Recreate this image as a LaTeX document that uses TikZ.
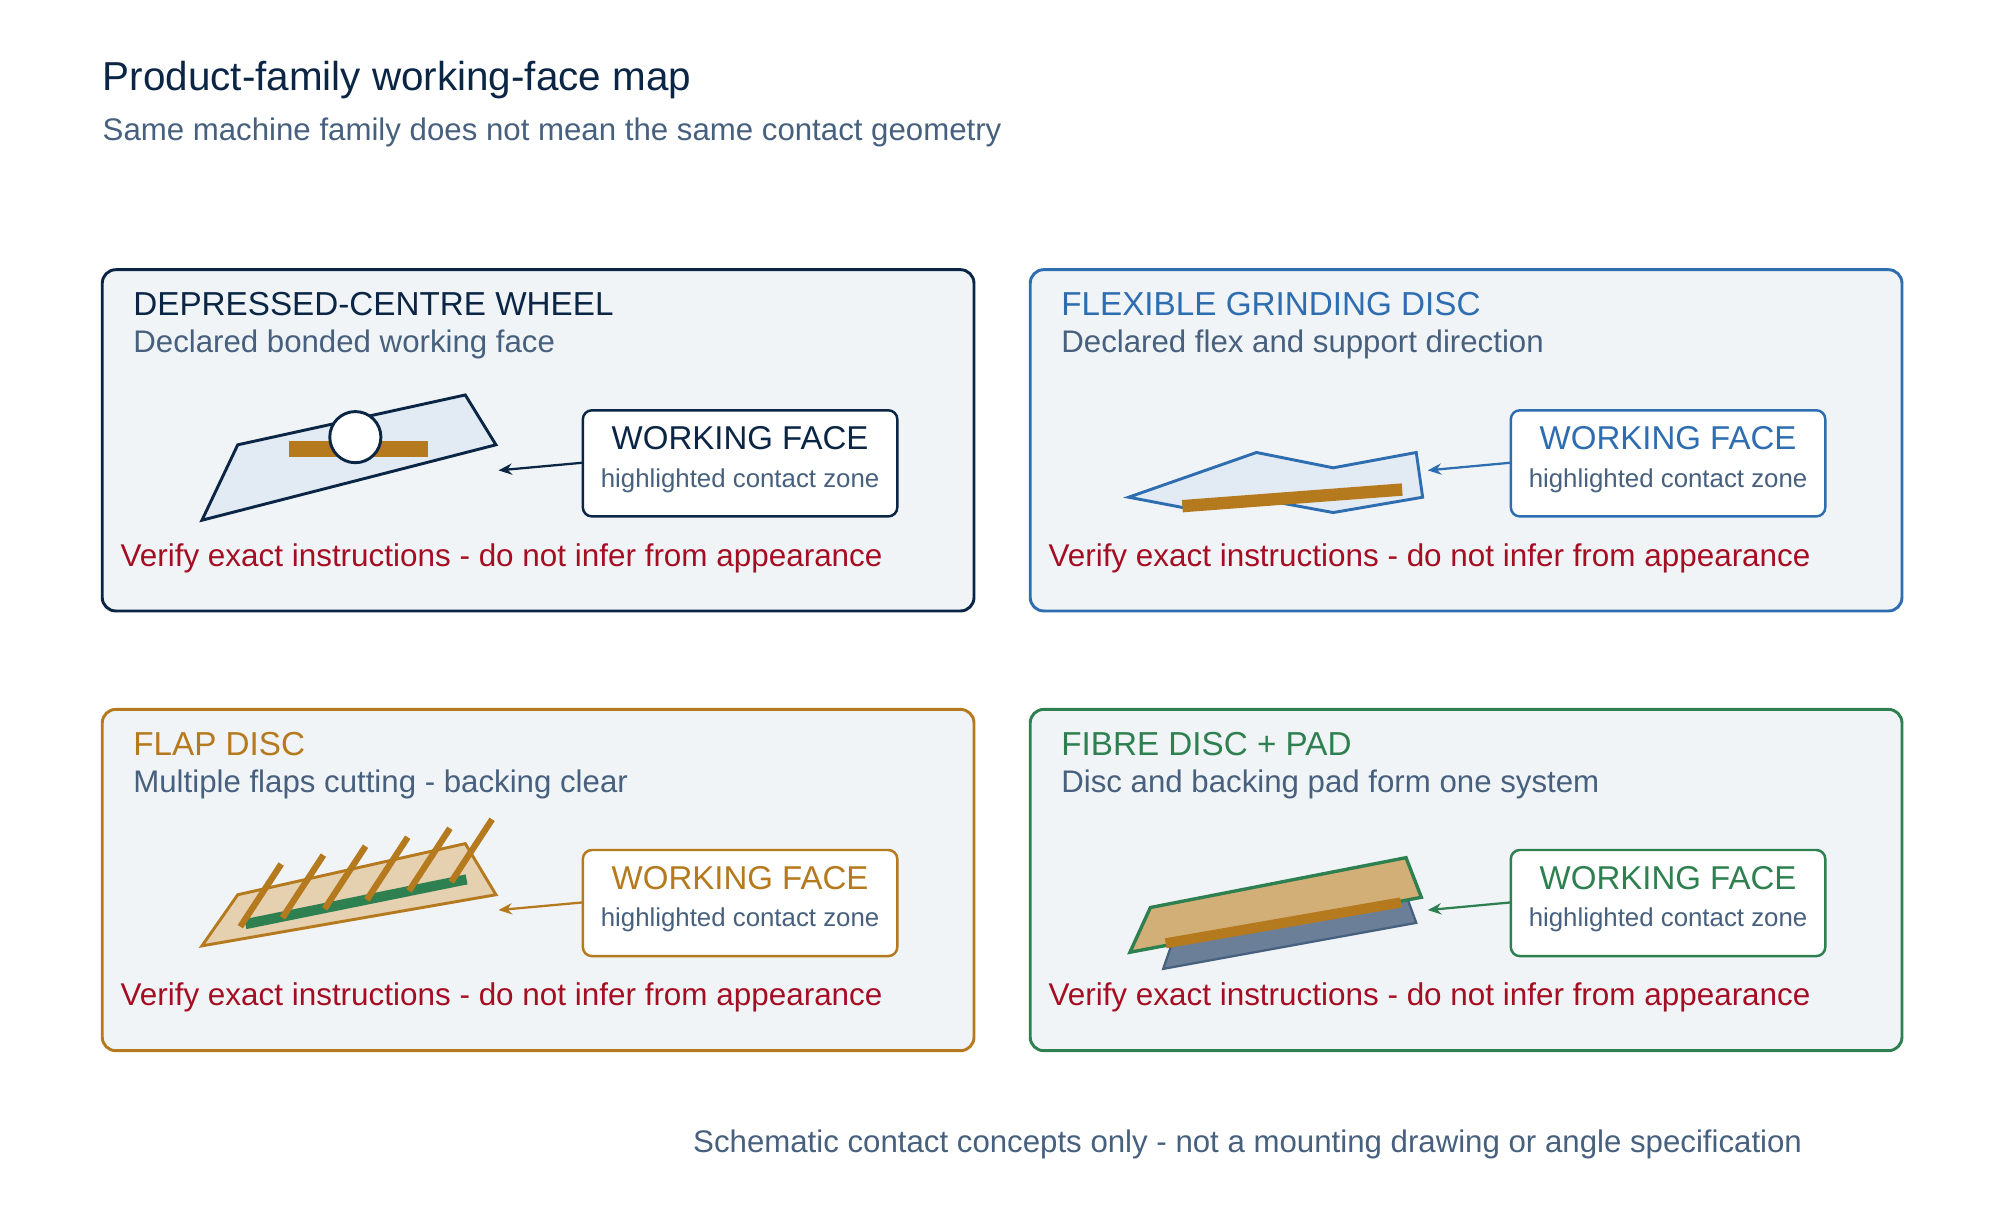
\documentclass[tikz,border=0pt]{standalone}
\usepackage{fontspec}
\setmainfont{Liberation Sans}
\usetikzlibrary{arrows.meta}
\definecolor{navy}{HTML}{0B2545}
\definecolor{cblue}{HTML}{2E6DB0}
\definecolor{cbrown}{HTML}{B5791E}
\definecolor{cgreen}{HTML}{2E8050}
\definecolor{cred}{HTML}{A50E22}
\definecolor{cgray}{HTML}{46607E}
\definecolor{panelbg}{HTML}{F0F4F7}
\definecolor{lightblue}{HTML}{E2EAF3}
\begin{document}
\begin{tikzpicture}[x=0.02cm,y=-0.02cm,
 every node/.style={inner sep=0pt},
 panel/.style={rounded corners=6pt,line width=1.3pt,fill=panelbg},
 wbox/.style={rounded corners=4pt,line width=1.1pt,fill=white},
 head/.style={anchor=base west,font=\fontsize{14.8}{16}\selectfont},
 sub/.style={anchor=base west,text=cgray,font=\fontsize{13.9}{15}\selectfont},
 warn/.style={anchor=base west,text=cred,font=\fontsize{14}{15}\selectfont},
 wf/.style={font=\fontsize{14.7}{16}\selectfont},
 hz/.style={text=cgray,font=\fontsize{11.5}{13}\selectfont},
 arr/.style={-{Stealth[length=6pt,width=5pt]},line width=1pt}]
\useasboundingbox (0,0) rectangle (1560,962);
\node[anchor=base west,text=navy,font=\fontsize{18}{20}\selectfont] (title) at (80,71) {Product-family working-face map};
\node[sub] (subtitle) at (80,110) {Same machine family does not mean the same contact geometry};
\node[anchor=base west,text=cgray,font=\fontsize{13.9}{15}\selectfont] (foot) at (542,902) {Schematic contact concepts only - not a mounting drawing or angle specification};
\foreach \x/\y/\c/\h/\s [count=\i] in {80/211/navy/DEPRESSED-CENTRE WHEEL/Declared bonded working face,
 806/211/cblue/FLEXIBLE GRINDING DISC/Declared flex and support direction,
 80/555/cbrown/FLAP DISC/Multiple flaps cutting - backing clear,
 806/555/cgreen/FIBRE DISC + PAD/Disc and backing pad form one system}{
 \draw[panel,draw=\c] (\x,\y) rectangle ++(682,267);
 \node[head,text=\c] (h\i) at (\x+24,\y+36) {\h};
 \node[sub] (s\i) at (\x+24,\y+65) {\s};
 \node[warn] (w\i) at (\x+14,\y+232) {Verify exact instructions - do not infer from appearance};
 \draw[wbox,draw=\c] (\x+376,\y+110) rectangle ++(246,83);
 \node[wf,text=\c] (wf\i) at (\x+499,\y+132) {WORKING FACE};
 \node[hz] (hz\i) at (\x+499,\y+165) {highlighted contact zone};
 \coordinate (b\i) at (\x+376,\y+151);
}
% TL
\draw[navy,line width=1.3pt,fill=lightblue] (158,407) -- (186,348) -- (364,309) -- (388,348) -- cycle;
\draw[cbrown,line width=7pt] (226,351) -- (335,351);
\draw[navy,line width=1.3pt,fill=white] (278,342) circle (20);
\coordinate (t1) at (390,368);
\draw[arr,navy] (b1) -- (t1);
% TR
\draw[cblue,line width=1.3pt,fill=lightblue] (883,389) -- (983,354) -- (1043,366) -- (1108,354) -- (1113,389) -- (1043,401) -- (983,390) -- (925,397) -- cycle;
\draw[cbrown,line width=5.5pt] (925,396) -- (1097,383);
\coordinate (t2) at (1117,368);
\draw[arr,cblue] (b2) -- (t2);
% BL
\draw[cbrown,line width=1.3pt,fill=cbrown!35!white] (158,740) -- (186,700) -- (364,660) -- (388,700) -- cycle;
\draw[cgreen,line width=4.5pt] (192,723) -- (365,688);
\foreach \k in {0,...,5}{\draw[cbrown,line width=2.8pt] (188+\k*33,725-\k*7) -- (220+\k*33,676-\k*7);}
\coordinate (t3) at (390,712);
\draw[arr,cbrown] (b3) -- (t3);
% BR
\draw[cgray,line width=1pt,fill=cgray!80!white] (910,758) -- (918,735) -- (1100,700) -- (1108,722) -- cycle;
\draw[cgreen,line width=1.5pt,fill=cbrown!60!white] (884,745) -- (900,710) -- (1100,671) -- (1112,702) -- cycle;
\draw[cbrown,line width=4.5pt] (912,738) -- (1096,706);
\coordinate (t4) at (1117,712);
\draw[arr,cgreen] (b4) -- (t4);
\end{tikzpicture}
\end{document}
